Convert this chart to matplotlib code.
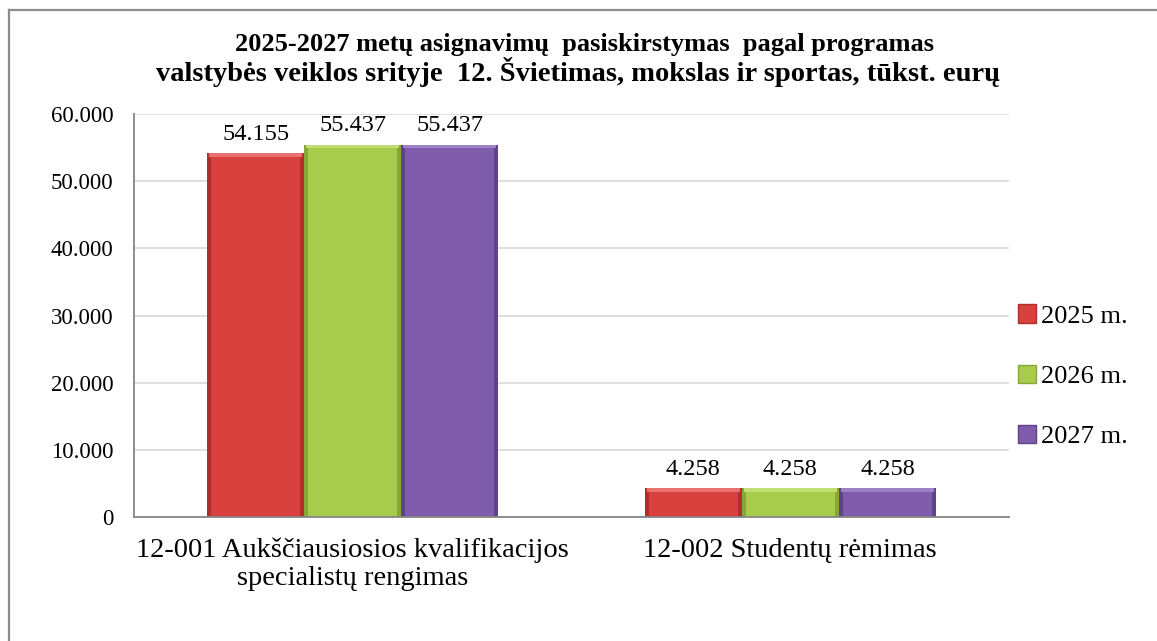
import numpy as np
import matplotlib
matplotlib.use("Agg")
import matplotlib.pyplot as plt
from matplotlib.patches import Patch
from matplotlib.lines import Line2D

# Data (tūkst. eurų)
categories = ["12-001 Aukščiausiosios kvalifikacijos\nspecialistų rengimas",
              "12-002 Studentų rėmimas"]
series_names = ["2025 m.", "2026 m.", "2027 m."]
values_2025 = [54155, 4258]
values_2026 = [55437, 4258]
values_2027 = [55437, 4258]
value_labels = [["54.155", "4.258"], ["55.437", "4.258"], ["55.437", "4.258"]]
yticks = [0, 10000, 20000, 30000, 40000, 50000, 60000]
ytick_labels = ["0", "10.000", "20.000", "30.000", "40.000", "50.000", "60.000"]

title_line1 = "2025-2027 metų asignavimų  pasiskirstymas  pagal programas"
title_line2 = "valstybės veiklos srityje  12. Švietimas, mokslas ir sportas, tūkst. eurų"


def main():
    """Draw the grouped bar chart and save it."""

    plt.rcParams["font.family"] = ["Liberation Serif", "DejaVu Serif"]

    # main face, darker bevel sides, lighter bevel top
    colors = ["#D9413E", "#A7CC4C", "#7F5DAC"]
    darks = ["#B02F2C", "#86A838", "#5E4388"]
    lights = ["#E8716E", "#C0DE74", "#9E82C6"]

    fig = plt.figure(figsize=(11.57, 6.41), dpi=100)
    ax = fig.add_axes([0.1158, 0.1934, 0.7563, 0.6288])

    # outer frame (left and top edges only are visible)
    fig.add_artist(Line2D([9 / 1157, 9 / 1157], [0, 1 - 10 / 641],
                          transform=fig.transFigure, color="#8C8C8C", lw=1.6))
    fig.add_artist(Line2D([9 / 1157, 1], [1 - 10 / 641, 1 - 10 / 641],
                          transform=fig.transFigure, color="#8C8C8C", lw=1.6))

    x = np.arange(len(categories))
    width = 0.222
    dx = 0.009
    dy = 550
    all_values = [values_2025, values_2026, values_2027]

    for i, vals in enumerate(all_values):
        pos = x + (i - 1) * width
        vals = np.array(vals)
        ax.bar(pos, vals, width, color=darks[i], linewidth=0, zorder=3)
        ax.bar(pos, dy, width - dx, bottom=vals - dy, color=lights[i],
               linewidth=0, zorder=4)
        ax.bar(pos, vals - dy, width - 2 * dx, color=colors[i],
               linewidth=0, zorder=5)
        for p, v, lab in zip(pos, vals, value_labels[i]):
            ax.text(p, v + 1300, lab, ha="center", va="bottom", fontsize=17.5)

    ax.set_xlim(-0.5, 1.5)
    ax.set_ylim(0, 60000)
    ax.set_yticks(yticks)
    ax.set_yticklabels(ytick_labels, fontsize=16.5)
    ax.set_xticks(x)
    ax.set_xticklabels(categories, fontsize=20.5, linespacing=1.12)
    ax.tick_params(axis="both", length=0)
    ax.tick_params(axis="y", pad=15)
    ax.tick_params(axis="x", pad=15)

    ax.grid(axis="y", color="#D9D9D9", linewidth=1.2, zorder=0)
    ax.spines["top"].set_visible(False)
    ax.spines["right"].set_visible(False)
    ax.spines["left"].set_color("#868686")
    ax.spines["bottom"].set_color("#868686")
    ax.spines["left"].set_linewidth(1.3)
    ax.spines["bottom"].set_linewidth(1.3)
    ax.spines["bottom"].set_zorder(6)

    fig.text(0.505, 1 - 45 / 641, title_line1, ha="center", va="center",
             fontsize=19, fontweight="bold")
    fig.text(0.5, 1 - 72 / 641, title_line2, ha="center", va="center",
             fontsize=20.5, fontweight="bold")

    handles = [Patch(facecolor=c, edgecolor=d) for c, d in zip(colors, darks)]
    fig.legend(handles, series_names, loc="center left",
               bbox_to_anchor=(0.859, 0.413), frameon=False, fontsize=19,
               handlelength=0.7, handleheight=0.7, handletextpad=0.2,
               labelspacing=1.4)

    fig.savefig("out.png", dpi=100)


if __name__ == "__main__":
    main()
